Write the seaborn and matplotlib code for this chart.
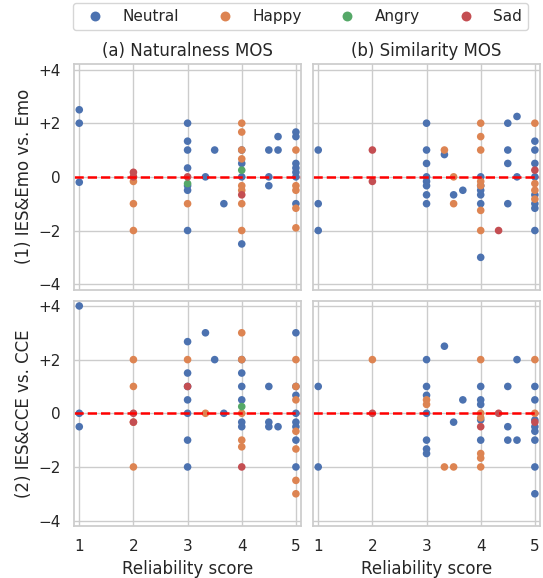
import numpy as np
import pandas as pd
import matplotlib
matplotlib.use("Agg")
import matplotlib.pyplot as plt
import seaborn as sns

EMOTIONS = ["Neutral", "Happy", "Angry", "Sad"]
METRICS = ["(a) Naturalness MOS", "(b) Similarity MOS"]
PAIRS = ["(1) IES&Emo vs. Emo", "(2) IES&CCE vs. CCE"]
YTICKS = [-4, -2, 0, 2, 4]
YTICK_LABELS = ["\u22124", "\u22122", "0", "+2", "+4"]

# (reliability score, MOS difference)
NAT_EMO_NEUTRAL = [(1, 2.5), (1, 2.0), (1, -0.2),
                   (3, 2.0), (3, 1.33), (3, 1.0), (3, 0.33), (3, -0.33), (3, -0.5), (3, -2.0),
                   (3.33, 0), (3.5, 1.0), (3.67, -1.0),
                   (4, 1.0), (4, 0.5), (4, 0), (4, -2.5),
                   (4.5, 1.0), (4.67, 1.0), (4.67, 1.5), (4.5, 0), (4.5, -0.33),
                   (5, 1.67), (5, 1.5), (5, 0.5), (5, 0.33), (5, 0.17), (5, 0), (5, -1.0)]
NAT_EMO_HAPPY = [(2, 0), (2, -0.17), (2, -1.0), (2, -2.0), (3, -1.0),
                 (4, 2.0), (4, 1.67), (4, 1.0), (4, 0.67), (4, -0.33), (4, -0.5), (4, -1.0), (4, -2.0),
                 (5, 1.0), (5, -0.33), (5, -0.5), (5, -1.17), (5, -1.9)]
NAT_EMO_ANGRY = [(3, -0.25), (4, 0.25)]
NAT_EMO_SAD = [(2, 0.17), (2, 0), (3, 0), (4, -0.67)]

SIM_EMO_NEUTRAL = [(1, 1.0), (1, -1.0), (1, -2.0),
                   (3, 2.0), (3, 1.0), (3, 0.5), (3, 0), (3, -0.17), (3, -0.33), (3, -0.67), (3, -1.0),
                   (3.33, 0.83), (3.5, -0.67), (3.67, -0.5),
                   (4, 0), (4, -0.33), (4, -0.5), (4, -0.67), (4, -1.0), (4, -3.0),
                   (4.5, 2.0), (4.67, 2.25), (4.5, 1.0), (4.5, 0.5), (4.67, 0), (4.5, -1.0),
                   (5, 1.33), (5, 1.0), (5, 0.5), (5, 0), (5, -0.67), (5, -1.0), (5, -1.17), (5, -2.0)]
SIM_EMO_HAPPY = [(3.33, 1.0), (3.5, 0), (3.5, -1.0),
                 (4, 2.0), (4, 1.5), (4, 1.0), (4, -0.17), (4, -0.33), (4, -1.25), (4, -2.0),
                 (5, 2.0), (5, -0.25), (5, -0.5), (5, -0.83)]
SIM_EMO_ANGRY = []
SIM_EMO_SAD = [(2, 1.0), (2, -0.17), (4.33, -2.0), (5, 0.25)]

NAT_CCE_NEUTRAL = [(1, 4.0), (1, 0), (1, -0.5),
                   (3, 2.67), (3, 1.5), (3, 1.0), (3, 0.5), (3, 0), (3, -1.0), (3, -2.0),
                   (3.33, 3.0), (3.5, 2.0), (3.67, 0),
                   (4, 2.0), (4, 1.5), (4, 1.0), (4, 0.5), (4, -0.33), (4, -0.5),
                   (4.5, 1.0), (4.5, -0.33), (4.5, -0.5), (4.67, -0.5),
                   (5, 3.0), (5, 1.0), (5, 0.67), (5, 0), (5, -0.33), (5, -0.5), (5, -1.0), (5, -2.0)]
NAT_CCE_HAPPY = [(2, 2.0), (2, 1.0), (2, -0.33), (2, -2.0), (3, 2.0), (3.33, 0),
                 (4, 3.0), (4, 2.0), (4, 0), (4, -1.0), (4, -1.25),
                 (5, 2.0), (5, 1.0), (5, 0.5), (5, -0.67), (5, -1.33), (5, -2.5), (5, -3.0)]
NAT_CCE_ANGRY = [(4, 0.25)]
NAT_CCE_SAD = [(2, 0), (2, -0.33), (3, 1.0), (4, -2.0)]

SIM_CCE_NEUTRAL = [(1, 1.0), (1, -2.0),
                   (3, 2.0), (3, 1.0), (3, 0.67), (3, 0), (3, -1.0), (3, -1.33), (3, -1.5),
                   (3.33, 2.5), (3.5, -0.33), (3.67, 0.5),
                   (4, 1.0), (4, 0.5), (4, 0.33), (4, -0.25), (4, -1.0),
                   (4.5, 1.0), (4.67, 2.0), (4.5, -0.5), (4.5, -1.0), (4.67, -1.0),
                   (5, 1.0), (5, 0.5), (5, -0.25), (5, -0.5), (5, -0.67), (5, -1.0), (5, -2.0), (5, -3.0)]
SIM_CCE_HAPPY = [(2, 2.0), (3, 0.5), (3, 0.33), (3.33, -2.0), (3.5, -2.0),
                 (4, 2.0), (4, 0), (4, -0.17), (4, -1.5), (4, -1.67), (4, -2.0),
                 (5, 2.0), (5, 0)]
SIM_CCE_ANGRY = []
SIM_CCE_SAD = [(2, 0), (4, -0.5), (4.33, 0), (5, -0.33)]

panels = {
    (PAIRS[0], METRICS[0]): [NAT_EMO_NEUTRAL, NAT_EMO_HAPPY, NAT_EMO_ANGRY, NAT_EMO_SAD],
    (PAIRS[0], METRICS[1]): [SIM_EMO_NEUTRAL, SIM_EMO_HAPPY, SIM_EMO_ANGRY, SIM_EMO_SAD],
    (PAIRS[1], METRICS[0]): [NAT_CCE_NEUTRAL, NAT_CCE_HAPPY, NAT_CCE_ANGRY, NAT_CCE_SAD],
    (PAIRS[1], METRICS[1]): [SIM_CCE_NEUTRAL, SIM_CCE_HAPPY, SIM_CCE_ANGRY, SIM_CCE_SAD],
}

rows = []
for (pair, metric), groups in panels.items():
    for emotion, pts in zip(EMOTIONS, groups):
        for score, diff in pts:
            rows.append({"pair": pair, "metric": metric, "emotion": emotion,
                         "score": score, "diff": diff})
df = pd.DataFrame(rows)

sns.set_theme(style="whitegrid")

g = sns.relplot(data=df, x="score", y="diff", hue="emotion", hue_order=EMOTIONS,
                row="pair", col="metric", row_order=PAIRS, col_order=METRICS,
                s=30, linewidth=0, height=2.5, aspect=1,
                facet_kws=dict(despine=False))

g.set(xlim=(0.9, 5.09), ylim=(-4.2, 4.2), xticks=[1, 2, 3, 4, 5], yticks=YTICKS)
g.set_axis_labels("Reliability score", "")
for ax in g.axes.flat:
    ax.axhline(0, color="red", linestyle="--", linewidth=1.8)
    ax.set_title("")
for ax, title in zip(g.axes[0], METRICS):
    ax.set_title(title)
for ax, label in zip(g.axes[:, 0], PAIRS):
    ax.set_ylabel(label)
    ax.set_yticklabels(YTICK_LABELS)

sns.move_legend(g, "upper center", bbox_to_anchor=(0.554, 1.0), ncol=4,
                title=None, frameon=True, borderaxespad=0.2, markerscale=1.3)

g.figure.set_size_inches(5.43, 5.78)
g.figure.subplots_adjust(left=0.136, right=0.994, top=0.889, bottom=0.090,
                         wspace=0.053, hspace=0.049)
g.figure.savefig("out.png", dpi=100)
